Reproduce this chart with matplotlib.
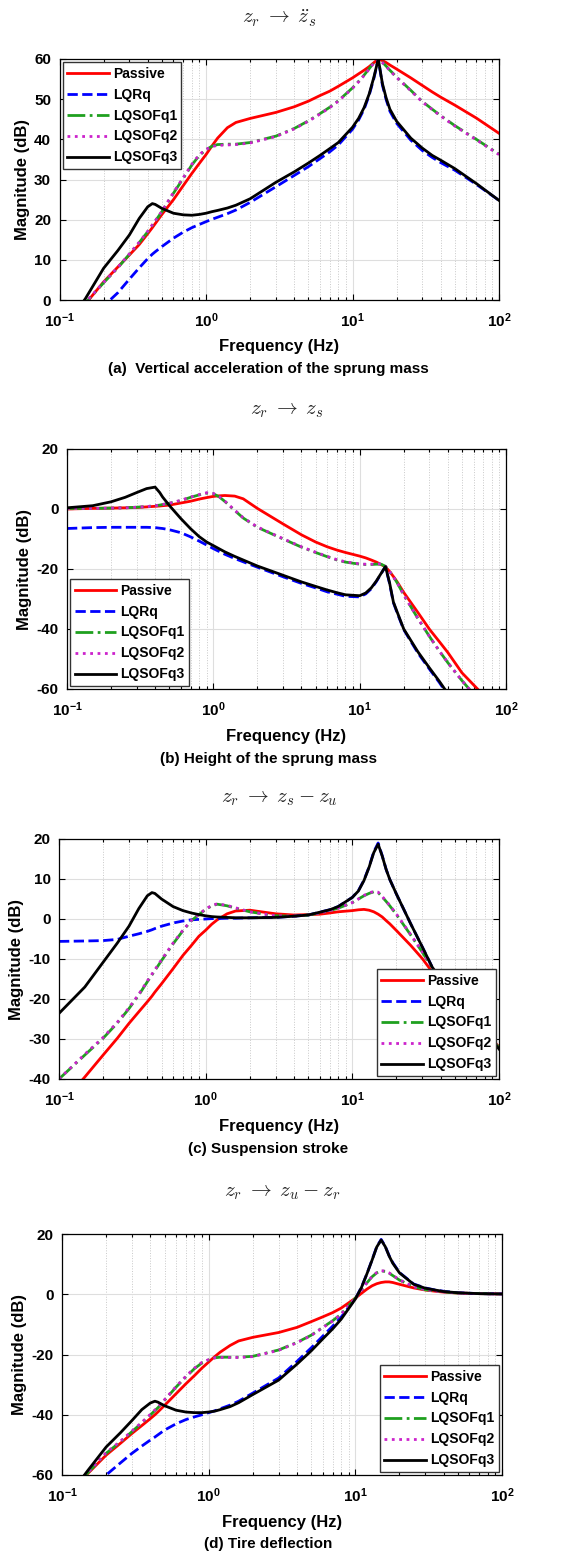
import matplotlib
matplotlib.use("Agg")
import matplotlib.pyplot as plt
from matplotlib.ticker import LogLocator, NullFormatter

plt.rcParams['font.family'] = ['Liberation Sans', 'DejaVu Sans']
plt.rcParams['font.weight'] = 'bold'
plt.rcParams['axes.unicode_minus'] = False
plt.rcParams['mathtext.fontset'] = 'custom'
plt.rcParams['mathtext.rm'] = 'Liberation Sans:bold'
plt.rcParams['mathtext.bf'] = 'Liberation Sans:bold'
plt.rcParams['mathtext.it'] = 'Liberation Sans:bold:italic'

# frequency grid shared by every curve (Hz)
freq_hz = [0.1, 0.15, 0.2, 0.25, 0.3, 0.35, 0.4, 0.43, 0.45, 0.5, 0.6, 0.7, 0.8, 0.9,
           1.0, 1.1, 1.2, 1.4, 1.6, 2, 3, 4, 5, 6, 7, 8, 10, 11, 12, 13, 14, 15, 16,
           17, 18, 20, 25, 30, 35, 40, 50, 70, 100]

series_names = ['Passive', 'LQRq', 'LQSOFq1', 'LQSOFq2', 'LQSOFq3']

# (a) z_r -> sprung mass acceleration, dB
acc_passive = [-8, -1, 4.5, 8.2, 11.2, 13.8, 16.5, 18, 19, 21.3, 25, 28.5, 31.5, 34,
               36.2, 38.4, 40.3, 42.9, 44.2, 45.2, 46.7, 48.1, 49.5, 50.9, 52, 53.2, 55.3, 56.3, 57.2, 58.1, 59.1, 60, 59.6,
               59.1, 58.5, 57.5, 55.3, 53.4, 51.8, 50.5, 48.5, 45.3, 41.5]
acc_lqrq = [-13, -6, -1.5, 1.8, 5.2, 8, 10.3, 11.4, 12, 13.3, 15.4, 16.9, 18, 18.8,
            19.5, 20.1, 20.6, 21.5, 22.4, 24.3, 28.2, 31, 33.2, 35.2, 36.9, 38.6, 42.5, 44.8, 47.5, 51, 55.2, 60, 53.5,
            49.8, 47, 44, 39.8, 37.2, 35.5, 34.2, 32.3, 28.8, 24.8]
acc_sof1 = [-8, -0.8, 4.3, 8, 11.4, 14.3, 17, 18.6, 19.6, 22, 26.6, 30.3, 33.6, 36,
            37.4, 38.3, 38.7, 38.8, 38.8, 39.2, 40.8, 42.7, 44.6, 46.4, 48, 49.6, 52.8, 54.4, 56, 57.6, 59.1, 60, 59.2,
            58.2, 57.2, 55.5, 52.2, 49.4, 47.5, 45.9, 43.4, 40, 36.3]
acc_sof2 = [-8, -0.7, 4.4, 8.1, 11.5, 14.4, 17.1, 18.7, 19.7, 22.1, 26.8, 30.5, 33.8, 36.2,
            37.5, 38.2, 38.5, 38.6, 38.7, 39.1, 40.7, 42.6, 44.5, 46.3, 47.9, 49.5, 52.7, 54.3, 55.9, 57.5, 59, 60, 59.1,
            58.1, 57.1, 55.4, 52.1, 49.3, 47.4, 45.8, 43.3, 39.9, 36.2]
acc_sof3 = [-8.5, 0.3, 7.9, 12.3, 16.2, 20.3, 23.2, 24, 23.8, 22.8, 21.6, 21.2, 21.1, 21.3,
            21.6, 22, 22.3, 22.9, 23.6, 25.2, 29.3, 31.9, 34.1, 36, 37.7, 39.2, 43, 45.2, 47.9, 51.3, 55.5, 60, 53.9,
            50.2, 47.5, 44.5, 40.3, 37.8, 36, 34.8, 32.7, 29, 24.8]

# (b) z_r -> sprung mass height, dB
hgt_passive = [0, 0.2, 0.3, 0.4, 0.5, 0.7, 0.9, 1.0, 1.1, 1.3, 2, 2.6, 3.3, 3.8,
               4.2, 4.4, 4.5, 4.3, 3.4, 0.2, -5, -8.6, -11, -12.6, -13.7, -14.5, -15.7, -16.3, -17, -17.7, -18.5, -19.3, -20.8,
               -22.5, -24.2, -27.8, -34.5, -40.1, -44.2, -47.8, -54.6, -62, -71.5]
hgt_lqrq = [-6.5, -6.2, -6.1, -6.1, -6.1, -6.1, -6.2, -6.4, -6.5, -6.9, -7.9, -9.3, -10.7, -12,
            -13.2, -14.2, -15.1, -16.5, -17.6, -19.4, -22.6, -24.8, -26.3, -27.6, -28.4, -29.1, -29.3, -28.3, -26.6, -24.2, -21.6, -19.2, -24.8,
            -31.2, -34.5, -40.2, -48, -53.4, -57.8, -62, -68, -77, -87]
hgt_sof1 = [0.2, 0.2, 0.3, 0.4, 0.6, 0.8, 1.1, 1.3, 1.5, 1.9, 2.8, 3.9, 4.7, 5.3,
            5.1, 4, 2.5, -0.5, -3, -6.1, -10, -12.7, -14.5, -15.9, -17, -17.7, -18.4, -18.5, -18.5, -18.4, -18.4, -19.1, -20.8,
            -22.6, -24.5, -28.6, -36.5, -42.5, -47.3, -51.2, -57.2, -65.5, -75]
hgt_sof2 = [0.2, 0.2, 0.3, 0.4, 0.6, 0.8, 1.1, 1.3, 1.5, 1.9, 2.9, 4.0, 4.8, 5.4,
            5.2, 4.1, 2.6, -0.4, -2.9, -6.0, -9.9, -12.6, -14.4, -15.8, -16.9, -17.6, -18.3, -18.4, -18.4, -18.3, -18.3, -19.1, -20.8,
            -22.6, -24.5, -28.6, -36.5, -42.5, -47.3, -51.2, -57.2, -65.5, -75]
hgt_sof3 = [0.4, 1.1, 2.4, 3.9, 5.5, 6.8, 7.3, 5.5, 4.0, 1.2, -3.2, -6.6, -9.2, -11,
            -12.2, -13.3, -14.3, -15.8, -17, -19, -22.1, -24.3, -25.8, -27, -27.9, -28.6, -28.9, -28, -26.3, -24, -21.5, -19.2, -24.5,
            -31, -34.2, -40, -47.6, -53, -57.4, -61.5, -67.5, -76.5, -86.5]

# (c) z_r -> suspension stroke, dB
str_passive = [-47, -39.5, -34, -29.8, -26.1, -23.2, -20.7, -19.3, -18.3, -16.2, -12.4, -9.1, -6.6, -4.3,
               -2.8, -1.3, -0.2, 1.3, 2.0, 2.2, 1.3, 1.0, 1.1, 1.2, 1.5, 1.8, 2.1, 2.3, 2.4, 2.2, 1.8, 1.2, 0.5,
               -0.4, -1.2, -2.9, -6.6, -9.9, -13.2, -15.5, -19.5, -25.5, -32]
str_lqrq = [-5.6, -5.5, -5.4, -5.1, -4.3, -3.7, -3.1, -2.7, -2.4, -1.8, -1.0, -0.5, -0.2, -0.1,
            0, 0.1, 0.1, 0.2, 0.2, 0.3, 0.4, 0.7, 1.0, 1.7, 2.3, 3.1, 5.4, 7.1, 9.7, 13, 16.8, 19, 15.8,
            12.4, 9.9, 6.2, -1.2, -7, -12, -15, -19.3, -25.3, -32.5]
str_sof1 = [-40, -34, -29.8, -26, -22.4, -19, -15.7, -14, -12.9, -10.4, -6.2, -2.9, -0.4, 1.1,
            2.4, 3.3, 3.7, 3.3, 2.7, 1.8, 0.8, 0.7, 1.0, 1.5, 2.1, 2.7, 4.1, 5, 5.8, 6.4, 6.8, 6.6, 5.5,
            4.4, 3.3, 1.1, -4, -8.3, -12.2, -15, -19.3, -25.3, -32.2]
str_sof2 = [-40, -33.8, -29.6, -25.8, -22.2, -18.8, -15.5, -13.8, -12.7, -10.2, -6.0, -2.8, -0.3, 1.2,
            2.5, 3.4, 3.8, 3.4, 2.8, 1.8, 0.8, 0.7, 1.0, 1.5, 2.1, 2.7, 4.1, 5, 5.9, 6.5, 6.9, 6.7, 5.6,
            4.5, 3.4, 1.2, -3.9, -8.2, -12.1, -15, -19.3, -25.3, -32.2]
str_sof3 = [-23.6, -17, -10.8, -6.0, -1.8, 2.6, 5.8, 6.6, 6.4, 5, 3.1, 2.1, 1.5, 1.1,
            0.8, 0.6, 0.5, 0.4, 0.3, 0.3, 0.4, 0.7, 1.0, 1.7, 2.3, 3.1, 5.4, 7, 9.6, 12.9, 16.6, 18.7, 15.7,
            12.4, 9.9, 6.2, -1.2, -7, -12, -15, -19.3, -25.3, -32.5]

# (d) z_r -> tire deflection, dB
tire_passive = [-67, -59.5, -53.4, -49.5, -46.2, -43.6, -41.3, -40, -39.1, -36.9, -33, -29.7, -27, -24.5,
                -22.5, -20.7, -19.2, -17, -15.5, -14.3, -12.7, -11, -9.1, -7.5, -6.1, -4.6, -1.3, 0.3, 1.7, 2.8, 3.5, 3.9, 4.1,
                4.1, 3.9, 3.3, 2.1, 1.4, 1.0, 0.7, 0.4, 0.2, 0.1]
tire_lqrq = [-72, -65, -60, -56, -52.8, -50.4, -48.4, -47.4, -46.7, -45.1, -43, -41.6, -40.7, -40,
             -39.3, -38.7, -38, -36.8, -35.5, -32.8, -27.8, -22.3, -17.8, -13.9, -10.6, -7.6, -1.5, 2.3, 6.8, 11.4, 15.8, 18.2, 15.9,
             12.8, 10.5, 7.2, 3.4, 2.1, 1.4, 1.0, 0.5, 0.2, 0.1]
tire_sof1 = [-67, -59.3, -52.8, -49, -45.6, -42.7, -40.1, -38.6, -37.7, -35.2, -30.8, -27.4, -24.7, -22.8,
             -21.8, -21.1, -20.9, -20.9, -20.9, -20.6, -18.5, -16, -13.6, -11, -8.8, -6.6, -1.3, 1.3, 3.8, 5.8, 7.1, 7.7, 7.6,
             7, 6.2, 4.7, 2.5, 1.5, 1.1, 0.8, 0.4, 0.2, 0.1]
tire_sof2 = [-67, -59.2, -52.6, -48.8, -45.4, -42.5, -39.9, -38.4, -37.5, -35.0, -30.6, -27.2, -24.5, -22.6,
             -21.7, -21.1, -21.0, -21.0, -21.0, -20.7, -18.6, -16.1, -13.7, -11.1, -8.9, -6.6, -1.3, 1.3, 3.9, 5.9, 7.2, 7.8, 7.7,
             7.1, 6.3, 4.8, 2.5, 1.5, 1.1, 0.8, 0.4, 0.2, 0.1]
tire_sof3 = [-70, -58.5, -50.7, -46, -41.9, -38.3, -36.1, -35.5, -35.8, -37, -38.5, -39.1, -39.3, -39.3,
             -39.1, -38.8, -38.3, -37.3, -36, -33.3, -28.5, -23.2, -18.8, -14.8, -11.5, -8.3, -1.6, 2.2, 6.8, 11.3, 15.7, 18, 15.8,
             12.7, 10.3, 7.1, 3.3, 2, 1.4, 0.9, 0.5, 0.2, 0.1]

W, H = 565, 1553
styles = [dict(color='#ff0000', ls='-'),
          dict(color='#0000ff', ls='--'),
          dict(color='#1fa01f', ls='-.'),
          dict(color='#cc22cc', ls=':'),
          dict(color='#000000', ls='-')]

panels = [
    dict(data=[acc_passive, acc_lqrq, acc_sof1, acc_sof2, acc_sof3],
         box=(59.5, 499, 59, 300), ylim=(0, 60), yticks=range(0, 61, 10),
         title=r'$z_r\;\rightarrow\;\ddot{z}_s$', title_y=18,
         caption='(a)  Vertical acceleration of the sprung mass',
         xlab_y=347, cap_y=369, leg='upper left', ylab_x=-0.066),
    dict(data=[hgt_passive, hgt_lqrq, hgt_sof1, hgt_sof2, hgt_sof3],
         box=(67, 506, 449, 689), ylim=(-60, 20), yticks=range(-60, 21, 20),
         title=r'$z_r\;\rightarrow\;z_s$', title_y=410,
         caption='(b) Height of the sprung mass',
         xlab_y=737, cap_y=759, leg='lower left', ylab_x=-0.08),
    dict(data=[str_passive, str_lqrq, str_sof1, str_sof2, str_sof3],
         box=(59, 499, 839, 1079), ylim=(-40, 20), yticks=range(-40, 21, 10),
         title=r'$z_r\;\rightarrow\;z_s - z_u$', title_y=798,
         caption='(c) Suspension stroke',
         xlab_y=1126, cap_y=1149, leg='lower right', ylab_x=-0.08),
    dict(data=[tire_passive, tire_lqrq, tire_sof1, tire_sof2, tire_sof3],
         box=(62, 502, 1234, 1475), ylim=(-60, 20), yticks=range(-60, 21, 20),
         title=r'$z_r\;\rightarrow\;z_u - z_r$', title_y=1193,
         caption='(d) Tire deflection',
         xlab_y=1522, cap_y=1544, leg='lower right', ylab_x=-0.08),
]

fig = plt.figure(figsize=(W / 100, H / 100), dpi=100)

for p in panels:
    l, r, t, b = p['box']
    ax = fig.add_axes([l / W, 1 - b / H, (r - l) / W, (b - t) / H])
    for name, vals, st in zip(series_names, p['data'], styles):
        ax.plot(freq_hz, vals, lw=2, label=name, **st)
    ax.set_xscale('log')
    ax.set_xlim(0.1, 100)
    ax.set_ylim(*p['ylim'])
    ax.set_xticks([0.1, 1, 10, 100])
    ax.set_xticklabels([r'$10^{-1}$', r'$10^{0}$', r'$10^{1}$', r'$10^{2}$'])
    ax.xaxis.set_minor_locator(LogLocator(base=10, subs=range(2, 10)))
    ax.xaxis.set_minor_formatter(NullFormatter())
    ax.set_yticks(list(p['yticks']))
    ax.set_yticklabels([str(v) for v in p['yticks']])
    ax.tick_params(which='both', direction='in', top=True, right=True,
                   labelsize=11, width=0.8)
    ax.tick_params(which='major', length=4, pad=6)
    ax.tick_params(axis='x', which='major', pad=8)
    ax.tick_params(which='minor', length=2)
    ax.grid(True, which='major', color='#dedede', lw=0.8, ls='-')
    ax.grid(True, which='minor', axis='x', color='#c8c8c8', lw=0.7, ls=':')
    ax.set_axisbelow(True)
    for s in ax.spines.values():
        s.set_linewidth(0.9)
    ax.set_ylabel('Magnitude (dB)', fontsize=12, fontweight='bold')
    ax.yaxis.set_label_coords(p['ylab_x'], 0.5)
    leg = ax.legend(loc=p['leg'], prop={'weight': 'bold', 'size': 10},
                    handlelength=3.0, handletextpad=0.3, labelspacing=0.5,
                    borderpad=0.3, borderaxespad=0.25, fancybox=False,
                    framealpha=1, edgecolor='#333333')
    leg.get_frame().set_linewidth(1.0)

    cx = (l + r) / 2 / W
    fig.text(cx, 1 - p['title_y'] / H, p['title'], ha='center', va='center',
             fontsize=15, fontweight='normal', math_fontfamily='cm', color='#222222')
    fig.text(cx, 1 - p['xlab_y'] / H, 'Frequency (Hz)', ha='center', va='center',
             fontsize=12, fontweight='bold')
    fig.text(268 / W, 1 - p['cap_y'] / H, p['caption'], ha='center', va='center',
             fontsize=11, fontweight='bold')

fig.savefig('out.png', dpi=100)
